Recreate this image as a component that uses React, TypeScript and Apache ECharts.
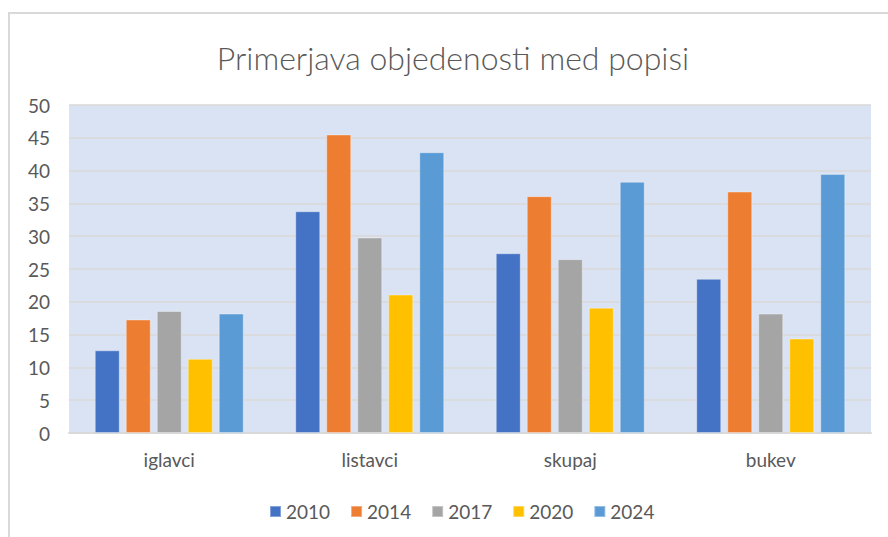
import React, { useEffect, useRef } from "react";
import * as echarts from "echarts";

const categories = ["iglavci", "listavci", "skupaj", "bukev"];
const years = ["2010", "2014", "2017", "2020", "2024"];
const values2010 = [12.6, 33.8, 27.4, 23.5];
const values2014 = [17.3, 45.5, 36.1, 36.8];
const values2017 = [18.6, 29.8, 26.5, 18.2];
const values2020 = [11.3, 21.1, 19.1, 14.4];
const values2024 = [18.2, 42.8, 38.3, 39.5];
const seriesValues = [values2010, values2014, values2017, values2020, values2024];
const colors = ["#4472C4", "#ED7D31", "#A5A5A5", "#FFC000", "#5B9BD5"];
const yTicks = [0, 5, 10, 15, 20, 25, 30, 35, 40, 45, 50];

const FONT = "Lato, 'Open Sans', sans-serif";
const TXT = "#595959";

export default function App() {
  const ref = useRef<HTMLDivElement>(null);
  useEffect(() => {
    if (!ref.current) return;
    const chart = echarts.init(ref.current, undefined, { renderer: "svg" });
    chart.setOption({
      animation: false,
      backgroundColor: "#FFFFFF",
      title: {
        text: "Primerjava objedenosti med popisi",
        left: 448,
        textAlign: "center",
        top: 36,
        textStyle: { fontFamily: FONT, fontSize: 32, fontWeight: 300, color: TXT },
      },
      graphic: [
        {
          type: "rect",
          shape: { x: 9, y: 13, width: 950, height: 600 },
          style: { fill: "none", stroke: "#D9D9D9", lineWidth: 2 },
          silent: true,
        },
      ],
      legend: {
        bottom: 11,
        left: 264,
        itemWidth: 11,
        itemHeight: 11,
        itemGap: 20,
        icon: "rect",
        textStyle: { fontFamily: FONT, fontSize: 19, color: TXT, padding: [0, 0, 0, 0] },
        data: years,
      },
      grid: {
        left: 69,
        right: 17,
        top: 105,
        bottom: 104,
        show: true,
        backgroundColor: "#DAE3F3",
        borderWidth: 0,
      },
      xAxis: {
        type: "category",
        data: categories,
        axisTick: { show: false },
        axisLine: { lineStyle: { color: "#D9D9D9", width: 2 } },
        axisLabel: { fontFamily: FONT, fontSize: 19, color: TXT, margin: 17 },
      },
      yAxis: {
        type: "value",
        min: yTicks[0],
        max: yTicks[yTicks.length - 1],
        interval: 5,
        axisLine: { show: false },
        axisTick: { show: false },
        splitLine: { lineStyle: { color: "#D9D9D9", width: 1.5 } },
        axisLabel: { fontFamily: FONT, fontSize: 19, color: TXT, margin: 19 },
      },
      series: years.map((y, i) => ({
        name: y,
        type: "bar",
        data: seriesValues[i],
        barWidth: 25,
        barGap: "24%",
        itemStyle: { color: colors[i], borderColor: "rgba(255,255,255,0.35)", borderWidth: 1 },
      })),
    });
    return () => chart.dispose();
  }, []);
  return (
    <div
      ref={ref}
      style={{ position: "fixed", left: 0, top: 0, width: 888, height: 537 }}
    />
  );
}
